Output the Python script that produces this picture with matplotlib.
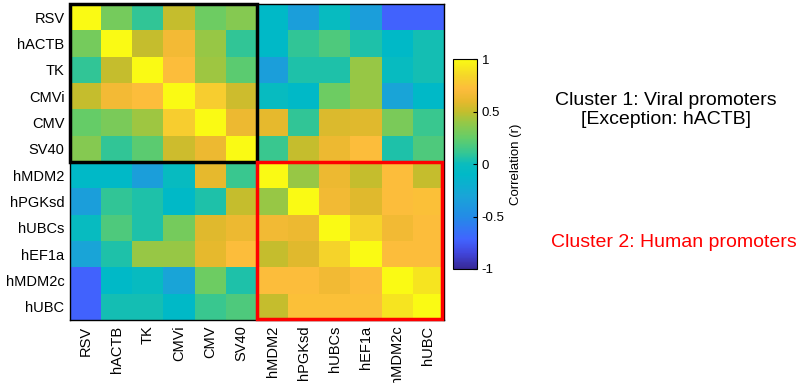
import numpy as np
import matplotlib
matplotlib.use("Agg")
import matplotlib.pyplot as plt
from matplotlib.colors import LinearSegmentedColormap
from matplotlib.patches import Rectangle

plt.rcParams['font.family'] = ['Liberation Sans', 'DejaVu Sans']

labels = ['RSV', 'hACTB', 'TK', 'CMVi', 'CMV', 'SV40',
          'hMDM2', 'hPGKsd', 'hUBCs', 'hEF1a', 'hMDM2c', 'hUBC']

# correlation values, one row per promoter
row_rsv    = [1.00, 0.30, 0.10, 0.50, 0.28, 0.35, -0.10, -0.35, -0.03, -0.35, -0.72, -0.72]
row_hactb  = [0.30, 1.00, 0.50, 0.67, 0.40, 0.10, -0.10, 0.10, 0.18, 0.05, -0.10, 0.03]
row_tk     = [0.10, 0.50, 1.00, 0.72, 0.42, 0.22, -0.35, 0.05, 0.05, 0.40, -0.03, 0.03]
row_cmvi   = [0.50, 0.67, 0.72, 1.00, 0.80, 0.53, -0.03, -0.10, 0.28, 0.40, -0.30, -0.10]
row_cmv    = [0.25, 0.32, 0.42, 0.80, 1.00, 0.64, 0.60, 0.10, 0.57, 0.58, 0.32, 0.12]
row_sv40   = [0.35, 0.10, 0.22, 0.53, 0.64, 1.00, 0.12, 0.50, 0.64, 0.72, 0.05, 0.18]
row_hmdm2  = [-0.10, -0.10, -0.35, -0.03, 0.60, 0.12, 1.00, 0.40, 0.64, 0.50, 0.72, 0.50]
row_hpgksd = [-0.35, 0.10, 0.05, -0.10, 0.05, 0.50, 0.40, 1.00, 0.66, 0.58, 0.72, 0.74]
row_hubcs  = [-0.03, 0.18, 0.05, 0.30, 0.58, 0.64, 0.66, 0.64, 1.00, 0.83, 0.66, 0.72]
row_hef1a  = [-0.30, 0.05, 0.40, 0.40, 0.60, 0.72, 0.50, 0.58, 0.83, 1.00, 0.72, 0.72]
row_hmdm2c = [-0.72, -0.10, -0.03, -0.30, 0.28, 0.05, 0.72, 0.72, 0.66, 0.72, 1.00, 0.90]
row_hubc   = [-0.72, 0.03, 0.03, -0.10, 0.12, 0.18, 0.50, 0.74, 0.74, 0.74, 0.90, 1.00]

corr = np.array([row_rsv, row_hactb, row_tk, row_cmvi, row_cmv, row_sv40,
                 row_hmdm2, row_hpgksd, row_hubcs, row_hef1a, row_hmdm2c, row_hubc])

# bright parula-like colormap, anchors
cmap_pts = [
    (-1.00, (55, 40, 150)), (-0.85, (65, 70, 220)), (-0.72, (65, 100, 255)),
    (-0.50, (35, 140, 230)), (-0.30, (25, 165, 215)), (-0.10, (0, 185, 200)),
    (0.00, (10, 188, 190)), (0.10, (50, 198, 150)), (0.25, (100, 205, 105)),
    (0.40, (150, 200, 70)), (0.50, (195, 190, 45)), (0.60, (230, 185, 45)),
    (0.72, (253, 188, 60)), (0.85, (245, 215, 40)), (1.00, (250, 250, 20)),
]
parula = LinearSegmentedColormap.from_list(
    'parula_bright',
    [((v + 1) / 2, tuple(c / 255 for c in rgb)) for v, rgb in cmap_pts])

fig = plt.figure(figsize=(7.99, 3.83), dpi=100)
ax = fig.add_axes([0.0876, 0.1645, 0.468, 0.825])
im = ax.imshow(corr, cmap=parula, vmin=-1, vmax=1, aspect='auto',
               interpolation='nearest')

n = len(labels)
ax.set_xticks(range(n))
ax.set_yticks(range(n))
ax.set_xticklabels(labels, rotation=90, fontsize=10.5)
ax.set_yticklabels(labels, fontsize=10.5)
ax.tick_params(length=0, pad=4)
for s in ax.spines.values():
    s.set_linewidth(1.0)

# cluster boxes
ax.add_patch(Rectangle((-0.5, -0.5), 6, 6, fill=False, edgecolor='black',
                       linewidth=2.5, clip_on=False, zorder=3))
ax.add_patch(Rectangle((5.5, 5.5), 5.95, 5.95, fill=False, edgecolor='red',
                       linewidth=2.5, clip_on=False, zorder=3))

cax = fig.add_axes([0.567, 0.2977, 0.030, 0.548])
cb = fig.colorbar(im, cax=cax, ticks=[-1, -0.5, 0, 0.5, 1])
cb.ax.set_yticklabels(['-1', '-0.5', '0', '0.5', '1'], fontsize=9.5)
cb.ax.tick_params(length=3, direction='in')
cb.outline.set_linewidth(0.8)
cb.set_label('Correlation (r)', fontsize=9.5, labelpad=4)

fig.text(0.833, 0.713, 'Cluster 1: Viral promoters\n[Exception: hACTB]',
         ha='center', va='center', fontsize=14, linespacing=1.1)
fig.text(0.843, 0.368, 'Cluster 2: Human promoters', color='red',
         ha='center', va='center', fontsize=14)

fig.savefig('out.png', dpi=100)
